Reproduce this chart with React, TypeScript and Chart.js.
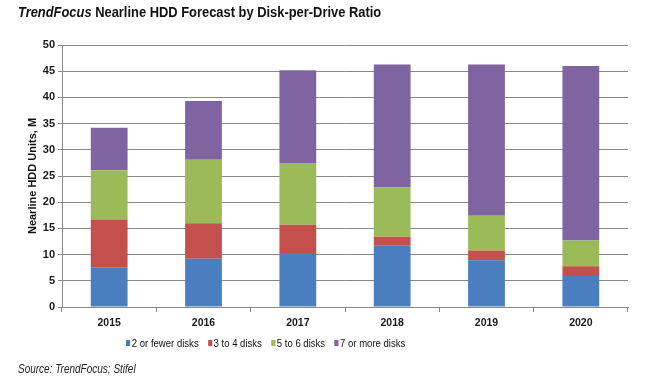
import React, { useEffect, useRef } from "react";
import { Chart, registerables } from "chart.js";

Chart.register(...registerables);

const years = ["2015", "2016", "2017", "2018", "2019", "2020"];
const twoOrFewer = [7.6, 9.2, 10.3, 11.7, 8.9, 5.9];
const threeToFour = [9.1, 6.8, 5.4, 1.7, 1.9, 1.9];
const fiveToSix = [9.4, 12.1, 11.8, 9.4, 6.6, 4.9];
const sevenOrMore = [8.1, 11.2, 17.7, 23.5, 28.9, 33.3];
const seriesNames = ["2 or fewer disks", "3 to 4 disks", "5 to 6 disks", "7 or more disks"];
const seriesColors = ["#4a7ebf", "#c4504d", "#9bbb59", "#8064a2"];
const yTicks = [0, 5, 10, 15, 20, 25, 30, 35, 40, 45, 50];

export default function App() {
  const canvasRef = useRef<HTMLCanvasElement | null>(null);

  useEffect(() => {
    const canvas = canvasRef.current;
    if (!canvas) return;
    const seriesData = [twoOrFewer, threeToFour, fiveToSix, sevenOrMore];
    const chart = new Chart(canvas, {
      type: "bar",
      data: {
        labels: years,
        datasets: seriesData.map((d, i) => ({
          label: seriesNames[i],
          data: d,
          backgroundColor: seriesColors[i],
          borderWidth: 0,
          categoryPercentage: 1,
          barPercentage: 0.39,
        })),
      },
      options: {
        animation: false,
        responsive: true,
        maintainAspectRatio: false,
        layout: { padding: { left: 0, right: 20, top: 45, bottom: 0 } },
        plugins: {
          legend: { display: false },
          title: { display: false },
          tooltip: { enabled: false },
        },
        scales: {
          x: {
            stacked: true,
            afterFit: (s: any) => {
              s.height = 72;
            },
            grid: {
              display: true,
              drawOnChartArea: false,
              drawTicks: true,
              tickLength: 5,
              offset: true,
              color: "#888",
            },
            border: { display: true, color: "#888" },
            ticks: {
              color: "#1a1a1a",
              padding: 5,
              font: { family: "'Liberation Sans', Arial, sans-serif", size: 10.5, weight: "bold" },
            },
          },
          y: {
            stacked: true,
            min: 0,
            max: 50,
            afterFit: (s: any) => {
              s.width = 62;
            },
            afterBuildTicks: (s: any) => {
              s.ticks = yTicks.map((v) => ({ value: v }));
            },
            grid: {
              color: "#888",
              tickLength: 4,
              drawTicks: true,
            },
            border: { display: true, color: "#888" },
            ticks: {
              color: "#1a1a1a",
              padding: 3,
              font: { family: "'Liberation Sans', Arial, sans-serif", size: 11, weight: "bold" },
            },
            title: {
              display: true,
              text: "Nearline HDD Units, M",
              color: "#111",
              padding: { top: 26, bottom: 0 },
              font: { family: "'Liberation Sans', Arial, sans-serif", size: 11, weight: "bold" },
            },
          },
        },
      },
    });
    return () => chart.destroy();
  }, []);

  const legendItems = seriesNames.map((n, i) => (
    <span key={n} style={{ display: "inline-flex", alignItems: "center", marginRight: 11 }}>
      <span
        style={{
          display: "inline-block",
          width: 5,
          height: 6,
          background: seriesColors[i],
          marginRight: 2,
        }}
      />
      <span>{n}</span>
    </span>
  ));

  return (
    <div
      style={{
        position: "fixed",
        left: 0,
        top: 0,
        width: 648,
        height: 379,
        background: "#fff",
        overflow: "hidden",
        fontFamily: "'Liberation Sans', Arial, sans-serif",
      }}
    >
      <div style={{ position: "absolute", left: 0, top: 0, width: 648, height: 379 }}>
        <canvas ref={canvasRef} />
      </div>
      <div
        style={{
          position: "absolute",
          left: 18,
          top: 3,
          fontSize: 15,
          fontWeight: "bold",
          color: "#111",
          whiteSpace: "nowrap",
          transform: "scaleX(0.86)",
          transformOrigin: "left top",
        }}
      >
        <i>TrendFocus</i> Nearline HDD Forecast by Disk-per-Drive Ratio
      </div>
      <div
        style={{
          position: "absolute",
          left: 126,
          top: 337,
          fontSize: 11.5,
          color: "#111",
          whiteSpace: "nowrap",
          transform: "scaleX(0.83)",
          transformOrigin: "left top",
          display: "flex",
        }}
      >
        {legendItems}
      </div>
      <div
        style={{
          position: "absolute",
          left: 18,
          top: 362,
          fontSize: 12.5,
          fontStyle: "italic",
          color: "#222",
          whiteSpace: "nowrap",
          transform: "scaleX(0.8)",
          transformOrigin: "left top",
        }}
      >
        Source: TrendFocus; Stifel
      </div>
    </div>
  );
}
